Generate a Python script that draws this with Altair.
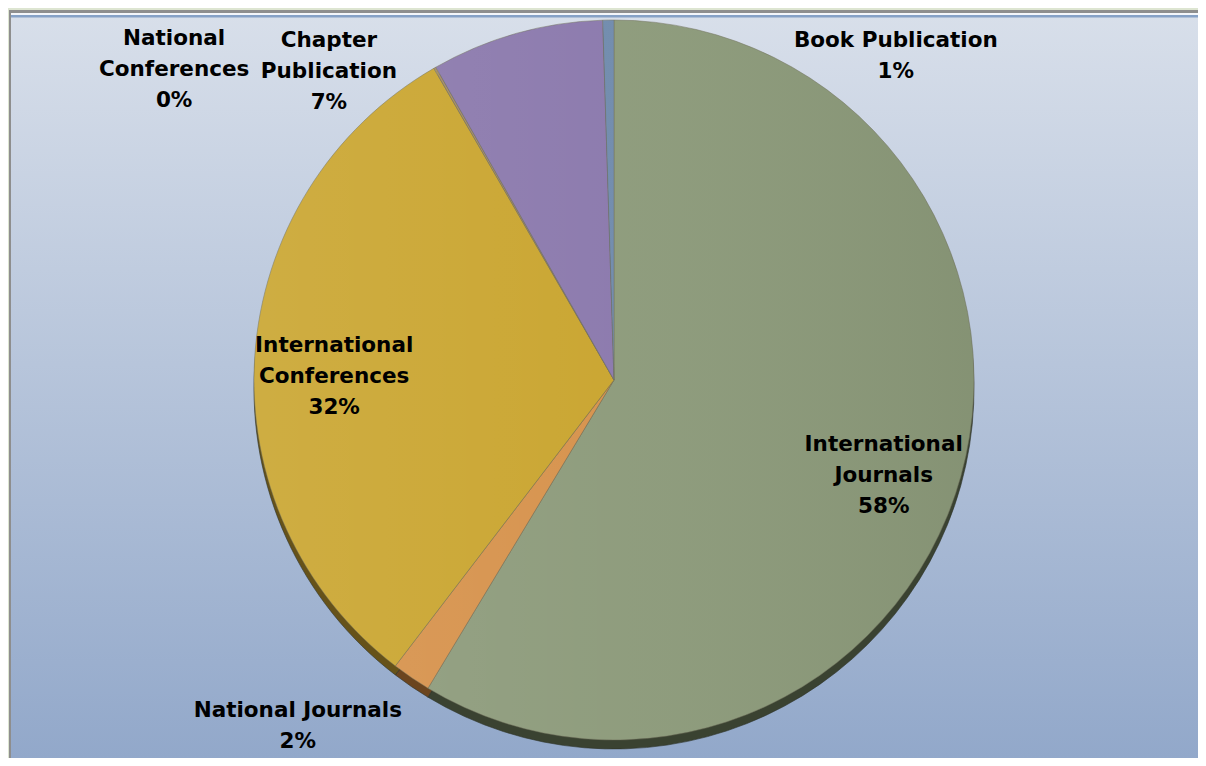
import altair as alt
import pandas as pd

# ---- data ----
categories = ["International Journals", "National Journals", "International Conferences",
              "National Conferences", "Chapter Publication", "Book Publication"]
values = [58.7, 1.75, 31.3, 0.1, 7.75, 0.5]
pct_labels = ["58%", "2%", "32%", "0%", "7%", "1%"]
label_text = ["International\nJournals", "National Journals", "International\nConferences",
              "National\nConferences", "Chapter\nPublication", "Book Publication"]

# ---- styles / layout ----
face_colors = ["#8c9a7a", "#d6914a", "#c9a42d", "#a48a60", "#8a78ac", "#6f8aac"]
edge_colors = ["#3a4231", "#6b451f", "#665219", "#4a4060", "#473d60", "#3a4a5e"]
label_shift = [2.7, 8.7, -1.7, -24.4, -26.4, 41.4]     # degrees from slice middle
label_radius = [284, 464, 280, 542, 425, 434]          # px from pie centre

W, H = 1190, 750
CX, CY, R = 606, 372, 360
DEPTH = 9
LH = 31

df = pd.DataFrame({
    "cat": categories,
    "value": values,
    "idx": list(range(len(categories))),
    "label": [f"{t}\n{p}" for t, p in zip(label_text, pct_labels)],
    "shift": label_shift,
    "lr": label_radius,
})

one = pd.DataFrame({"a": [0]})

border = alt.Chart(one).mark_rect(color="#8e8e8e").encode(
    x=alt.value(1), x2=alt.value(W), y=alt.value(2), y2=alt.value(H))

panel = alt.Chart(one).mark_rect(
    color=alt.LinearGradient(
        gradient="linear", x1=0, y1=0, x2=0, y2=1,
        stops=[alt.GradientStop(offset=0, color="#d8dfea"),
               alt.GradientStop(offset=1, color="#92a8ca")])
).encode(x=alt.value(3), x2=alt.value(W), y=alt.value(5), y2=alt.value(H))

white_line = alt.Chart(one).mark_rect(color="#f4f6fa").encode(
    x=alt.value(3), x2=alt.value(W), y=alt.value(5), y2=alt.value(7))
blue_line = alt.Chart(one).mark_rect(color="#86a1c6").encode(
    x=alt.value(3), x2=alt.value(W), y=alt.value(7), y2=alt.value(9.5))

shadow = alt.Chart(df).transform_calculate(cat_edge="datum.cat").mark_arc(
    radius=R, stroke="#2e3328", strokeWidth=0.6).encode(
    theta=alt.Theta("value:Q", stack=True),
    color=alt.Color("cat_edge:N", scale=alt.Scale(domain=categories, range=edge_colors), legend=None),
    order=alt.Order("idx:Q"),
    x=alt.value(CX), y=alt.value(CY + DEPTH),
)

face = alt.Chart(df).mark_arc(radius=R, stroke="#6f6f5a", strokeWidth=0.7, strokeOpacity=0.7).encode(
    theta=alt.Theta("value:Q", stack=True),
    color=alt.Color("cat:N", scale=alt.Scale(domain=categories, range=face_colors), legend=None),
    order=alt.Order("idx:Q"),
    x=alt.value(CX), y=alt.value(CY),
)

sheen = alt.Chart(one).mark_arc(
    radius=R, theta=0, theta2=6.2832,
    color=alt.LinearGradient(
        gradient="linear", x1=0, y1=0, x2=1, y2=0,
        stops=[alt.GradientStop(offset=0, color="rgba(255,255,255,0.10)"),
               alt.GradientStop(offset=0.5, color="rgba(255,255,255,0.03)"),
               alt.GradientStop(offset=1, color="rgba(0,0,0,0.05)")])
).encode(x=alt.value(CX), y=alt.value(CY))

labels = alt.Chart(df).transform_joinaggregate(
    total="sum(value)"
).transform_window(
    cum="sum(value)", sort=[alt.SortField("idx")], frame=[None, 0]
).transform_calculate(
    ang="((datum.cum - datum.value/2)/datum.total*360 + datum.shift)*PI/180",
    nl="length(split(datum.label, '\\n'))",
).transform_calculate(
    lx=f"{CX} + datum.lr*sin(datum.ang)",
    ly=f"{CY + 7} - datum.lr*cos(datum.ang) - (datum.nl - 1)*{LH}/2",
).mark_text(
    font="DejaVu Sans", fontWeight="bold", fontSize=21.5, lineBreak="\n",
    lineHeight=LH, align="center", baseline="middle", color="#000000",
).encode(
    x=alt.X("lx:Q", scale=None), y=alt.Y("ly:Q", scale=None), text="label:N"
)

chart = alt.layer(border, panel, white_line, blue_line, shadow, face, sheen, labels).resolve_scale(
    color="independent"
).properties(
    width=W, height=H, padding=0, autosize=alt.AutoSizeParams(type="none"),
    background="#dde5d1",
).configure_view(strokeWidth=0)

chart.save("out.html", embed_options={"renderer": "svg", "actions": False})
